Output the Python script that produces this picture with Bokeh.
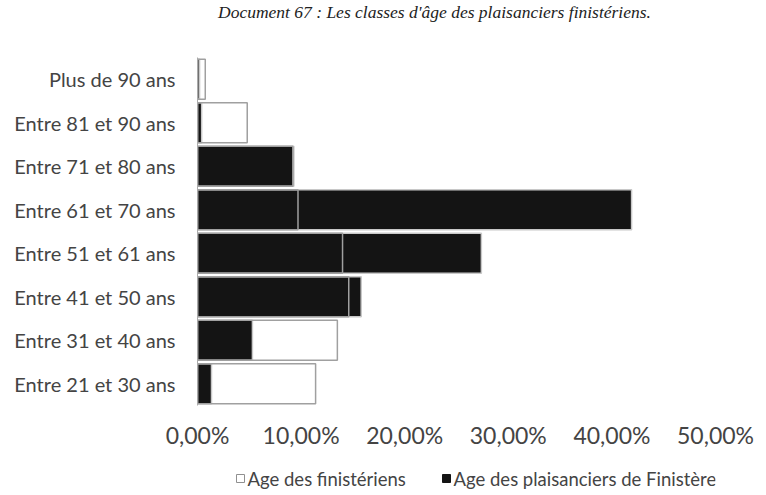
from bokeh.plotting import figure
from bokeh.models import (FactorRange, Range1d, FixedTicker, CustomJSTickFormatter, Div)
from bokeh.core.properties import value
from bokeh.layouts import column
from bokeh.embed import file_html
from bokeh.resources import INLINE

title_text = "Document 67 : Les classes d'âge des plaisanciers finistériens."
categories = ["Entre 21 et 30 ans", "Entre 31 et 40 ans", "Entre 41 et 50 ans",
              "Entre 51 et 61 ans", "Entre 61 et 70 ans", "Entre 71 et 80 ans",
              "Entre 81 et 90 ans", "Plus de 90 ans"]
finisteriens = [11.4, 13.5, 14.6, 14.0, 9.7, 9.2, 4.8, 0.75]
plaisanciers = [1.35, 5.3, 15.8, 27.4, 41.9, 9.3, 0.4, 0.2]
x_ticks = [0, 10, 20, 30, 40, 50]
series_names = ["Age des finistériens", "Age des plaisanciers de Finistère"]

W = 764
FRAME_L, FRAME_R = 197, 715
TITLE_H, MAIN_H, LEG_H = 24, 436, 34

WHITE_STYLE = dict(fill_color=None, line_color="#a0a0a0", line_width=1.5)
BLACK_STYLE = dict(fill_color="#141414", line_color="#c8c8c8", line_width=1.5)

title = Div(text=title_text, width=W, height=TITLE_H, margin=0,
            styles={"font-family": "Liberation Serif", "font-style": "italic",
                    "font-size": "17.5px", "line-height": "24px",
                    "padding-left": "218px", "color": "#222222",
                    "white-space": "nowrap"})

p = figure(width=W, height=MAIN_H, output_backend="svg", toolbar_location=None,
           y_range=FactorRange(factors=categories, range_padding=0),
           x_range=Range1d(0, 50),
           min_border_left=FRAME_L, min_border_right=W - FRAME_R,
           min_border_top=57 - TITLE_H,
           min_border_bottom=TITLE_H + MAIN_H - 405)
p.outline_line_color = None
p.xgrid.grid_line_color = None
p.ygrid.grid_line_color = None

p.hbar(y=categories, right=plaisanciers, left=0, height=0.92, **BLACK_STYLE)
p.hbar(y=categories, right=finisteriens, left=0, height=0.92, **WHITE_STYLE)

p.xaxis.ticker = FixedTicker(ticks=x_ticks)
p.xaxis.formatter = CustomJSTickFormatter(code="return tick.toFixed(2).replace('.', ',') + '%';")
p.xaxis.axis_line_color = None
p.xaxis.major_tick_line_color = None
p.xaxis.minor_tick_line_color = None
p.xaxis.major_label_standoff = 9
p.xaxis.major_label_text_font = "Lato"
p.xaxis.major_label_text_font_size = "23px"
p.xaxis.major_label_text_color = "#444444"

p.yaxis.axis_line_color = "#aaaaaa"
p.yaxis.major_tick_line_color = None
p.yaxis.minor_tick_line_color = None
p.yaxis.major_label_standoff = 16
p.yaxis.major_label_text_font = "Lato"
p.yaxis.major_label_text_font_size = "20px"
p.yaxis.major_label_text_color = "#444444"

# legend strip: its frame is aligned with the main frame, ranges in page pixels
pl = figure(width=W, height=LEG_H, output_backend="svg", toolbar_location=None,
            x_range=Range1d(FRAME_L, FRAME_R), y_range=Range1d(0, LEG_H),
            min_border_left=FRAME_L, min_border_right=W - FRAME_R,
            min_border_top=0, min_border_bottom=0)
pl.axis.visible = False
pl.grid.visible = False
pl.outline_line_color = None
key_x = [240, 446]
key_y = [16, 16]
pl.rect(x=key_x[:1], y=key_y[:1], width=8, height=8, width_units="screen",
        height_units="screen", fill_color="white", line_color="#909090", line_width=1)
pl.rect(x=key_x[1:], y=key_y[1:], width=8, height=8, width_units="screen",
        height_units="screen", fill_color="#141414", line_color="#141414", line_width=1)
pl.text(x=[k + 7 for k in key_x], y=key_y, text=series_names,
        text_font=value("Lato"), text_font_size="18.5px", text_color="#444444",
        text_baseline="middle", text_align="left")

layout = column(title, p, pl, spacing=0)
open("out.html", "w").write(file_html(layout, INLINE))
